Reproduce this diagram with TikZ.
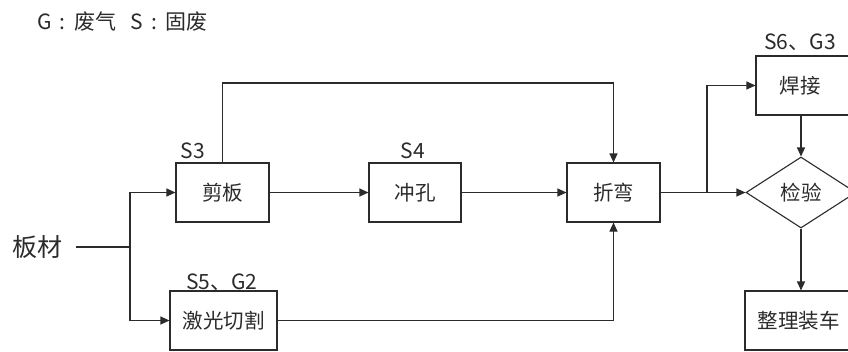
\documentclass[tikz,border=0pt]{standalone}
\usepackage{fontspec}
\setmainfont{Noto Sans CJK SC}
\usetikzlibrary{shapes.geometric,arrows.meta}
\definecolor{ink}{HTML}{2B2B2B}
\tikzset{
  box/.style={draw=ink, line width=1.1pt, rectangle, minimum height=59pt, inner sep=0pt, font=\fontsize{20.5}{24}\selectfont, text=ink},
  dia/.style={draw=ink, line width=1.1pt, diamond, minimum width=110pt, minimum height=71pt, inner sep=0pt, font=\fontsize{20.5}{24}\selectfont, text=ink},
  lab/.style={font=\fontsize{21}{25}\selectfont, text=ink, inner sep=0pt},
  arr/.style={draw=ink, line width=1.1pt, -{Triangle[length=9pt,width=8pt]}},
  ln/.style={draw=ink, line width=1.1pt}
}
\begin{document}
\begin{tikzpicture}[x=1pt,y=-1pt]
\useasboundingbox (0,0) rectangle (848,351);
\fill[white] (0,0) rectangle (848,351);
\clip (0,0) rectangle (848,351);
% legend
\node[lab, anchor=west, font=\fontsize{21}{25}\selectfont] (legend) at (37,22) {G\hspace{8pt}:\hspace{9pt}废气\hspace{14pt}S\hspace{8pt}:\hspace{9pt}固废};
% boxes
\node[box, minimum width=93pt] (jianban) at (222.5,192.5) {剪板};
\node[box, minimum width=92pt] (chongkong) at (415,192.5) {冲孔};
\node[box, minimum width=93pt] (zhewan) at (613.5,192.5) {折弯};
\node[box, minimum width=94pt] (hanjie) at (803,85.5) {\hspace*{-6pt}焊接};
\node[box, minimum width=107pt] (laser) at (223.5,320.5) {激光切割};
\node[box, minimum width=107pt] (zhengli) at (798.5,320.5) {整理装车};
\node[dia] (jianyan) at (801,192.5) {检验};
\node[lab, anchor=east, font=\fontsize{25}{29}\selectfont, inner xsep=13pt] (bancai) at (76,247) {\hspace*{13pt}板材};
% labels
\node[lab] (l3) at (193,151) {S3};
\node[lab] (l4) at (413,151) {S4};
\node[lab] (l5) at (222,282) {S5、G2};
\node[lab] (l6) at (800,42) {S6、G3};
% coordinates
\coordinate (split) at (130,247);
\coordinate (split2) at (707,192.5);
\coordinate (topy) at (0,83);
% connectors
\draw[ln] (bancai.east) -- (split);
\draw[arr] (split) |- (jianban.west);
\draw[arr] (split) |- (laser.west);
\draw[arr] (jianban.east) -- (chongkong.west);
\draw[arr] (chongkong.east) -- (zhewan.west);
\draw[arr] (jianban.north) -- (jianban.north |- topy) -| (zhewan.north);
\draw[arr] (laser.east) -| (zhewan.south);
\draw[arr] (zhewan.east) -- (jianyan.west);
\draw[arr] (split2) |- (hanjie.west);
\draw[arr] (hanjie.south -| jianyan.north) -- (jianyan.north);
\draw[arr] (jianyan.south) -- (zhengli.north -| jianyan.south);
\end{tikzpicture}
\end{document}
